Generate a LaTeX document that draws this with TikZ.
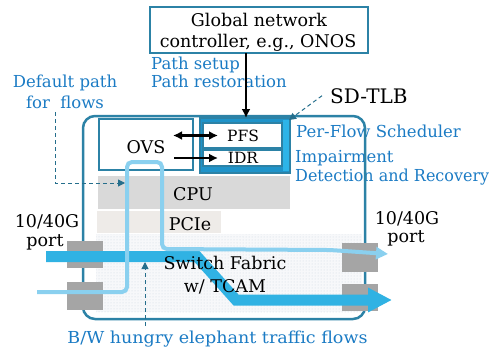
\documentclass[tikz,border=0pt]{standalone}
\usepackage{fontspec}
\usepackage{graphicx}
\setmainfont{DejaVu Serif}
\usetikzlibrary{arrows.meta,patterns}

\definecolor{frame}{HTML}{2C82A6}
\definecolor{noteblue}{HTML}{1B7BC4}
\definecolor{dashteal}{HTML}{256E8C}
\definecolor{bigflow}{HTML}{30B2E3}
\definecolor{thinflow}{HTML}{8AD0EF}
\definecolor{portgray}{HTML}{A5A5A5}
\definecolor{cpugray}{HTML}{D9D9D9}
\definecolor{pciegray}{HTML}{EEEBE8}
\definecolor{fabricbg}{HTML}{F7F8FA}
\definecolor{fabricdot}{HTML}{CFD8E2}
\definecolor{tlbfill}{HTML}{1F93C9}
\definecolor{tlbstrip}{HTML}{2DB4E8}

% set a text to a given width, keeping its height
\newcommand{\fitwidth}[2]{\resizebox{#1}{\height}{#2}}

\tikzset{
  box/.style={rectangle, inner sep=0pt, outer sep=0pt, anchor=north west},
  lbl/.style={inner sep=0pt, text=black, font=\fontsize{17.5}{20}\selectfont},
  small/.style={inner sep=0pt, text=black, font=\fontsize{15.5}{18}\selectfont},
  big/.style={inner sep=0pt, text=black, font=\fontsize{20}{24}\selectfont},
  note/.style={inner sep=0pt, text=noteblue, font=\fontsize{16.5}{19}\selectfont},
  blackarrow/.style={line width=2.2pt, draw=black},
  dasharrow/.style={draw=dashteal, line width=1pt, dash pattern=on 4pt off 3pt,
    -{Triangle[length=7pt,width=7pt]}},
}

\begin{document}
\begin{tikzpicture}[x=1pt,y=-1pt]
\useasboundingbox (0,0) rectangle (493,348);

% controller
\node[box, draw=frame, fill=white, line width=2.5pt, minimum width=218pt, minimum height=46pt] (ctrl) at (150,7) {};
\node[lbl, anchor=base] (ctrlA) at (259,27) {Global network};
\node[lbl, anchor=base] (ctrlB) at (258,47) {controller, e.g., ONOS};
\node[note, anchor=base west] (setup) at (151,69) {Path setup};
\node[note, anchor=base west] (restore) at (151,87) {Path restoration};

% left and right notes
\node[note, anchor=base] (defA) at (65,87) {Default path};
\node[note, anchor=base] (defB) at (65,108) {for\ \ flows};
\node[big, anchor=base west] (tlbname) at (330,103) {SD-TLB};
\node[note, anchor=base west] (pfsname) at (296,137) {Per-Flow Scheduler};
\node[note, anchor=base west] (idrA) at (295,162) {Impairment};
\node[note, anchor=base west] (idrB) at (295,181) {\fitwidth{194pt}{Detection and Recovery}};

% switch chassis
\node[box, draw=frame, line width=2.5pt, rounded corners=12pt, minimum width=282pt, minimum height=203pt] (sw) at (83,116) {};

% OVS
\node[box, draw=frame, fill=white, line width=2.5pt, minimum width=94pt, minimum height=51pt] (ovs) at (99,119) {};
\node[lbl, anchor=base] (ovstxt) at (146,153) {OVS};

% SD-TLB block
\node[box, draw=frame, fill=tlbfill, line width=2pt, minimum width=90pt, minimum height=55pt] (tlb) at (200,118) {};
\node[box, fill=tlbstrip, minimum width=6pt, minimum height=51pt] (strip) at (283,120) {};
\node[box, draw=frame, fill=white, line width=1.5pt, minimum width=79pt, minimum height=25pt] (pfs) at (203,123) {};
\node[box, draw=frame, fill=white, line width=1.5pt, minimum width=79pt, minimum height=16pt] (idr) at (203,150) {};
\node[small, anchor=base] (pfstxt) at (243,141) {PFS};
\node[small, anchor=base] (idrtxt) at (243,163) {IDR};

% CPU, PCIe, fabric
\node[box, fill=cpugray, minimum width=192pt, minimum height=33pt] (cpu) at (98,176) {};
\node[lbl, anchor=base] (cputxt) at (193,200) {CPU};
\node[box, fill=pciegray, minimum width=124pt, minimum height=22pt] (pcie) at (97,211) {};
\node[lbl, anchor=base] (pcietxt) at (190,230) {PCIe};
\node[box, fill=fabricbg, postaction={pattern=dots, pattern color=fabricdot}, minimum width=266pt, minimum height=78pt] (fabric) at (96,234) {};

% ports
\node[box, fill=portgray, minimum width=36pt, minimum height=27pt] (pL1) at (67,241) {};
\node[box, fill=portgray, minimum width=36pt, minimum height=28pt] (pL2) at (67,282) {};
\node[box, fill=portgray, minimum width=36pt, minimum height=29pt] (pR1) at (342,243) {};
\node[box, fill=portgray, minimum width=36pt, minimum height=27pt] (pR2) at (342,284) {};

% control arrows
\coordinate (cx) at (246,0);
\draw[blackarrow, -{Latex[length=9pt,width=9pt]}] (ctrl.south -| cx) -- (tlb.north -| cx);
\draw[blackarrow, {Latex[length=9pt,width=9pt]}-{Latex[length=9pt,width=9pt]}]
  ([xshift=-20pt]ovs.east |- pfs.center) -- ([xshift=15pt]pfs.west);
\draw[blackarrow, -{Latex[length=9pt,width=9pt]}]
  ([xshift=-19pt]ovs.east |- idr.center) -- ([xshift=15pt]idr.west);

% elephant flow
\draw[bigflow, line width=11pt, -{Triangle[length=24pt,width=23pt]}]
  (46,256.5) -- (197,256.5) -- (236,300) -- (392,300);
% default flow through OVS
\draw[thinflow, line width=4pt, rounded corners=5pt, -{Triangle[length=12pt,width=12pt]}]
  (37,292) -- (127,292) -- (127,162) -- (162,162) -- (162,249) -- (330,250) -- (388,254);

% fabric labels
\node[lbl, anchor=base] (sf1) at (225,269) {Switch Fabric};
\node[lbl, anchor=base] (sf2) at (225,292) {w/ TCAM};
\node[lbl, anchor=base] (portL1) at (47,227) {10/40G};
\node[lbl, anchor=base] (portL2) at (45,246) {port};
\node[lbl, anchor=base] (portR1) at (407,224) {10/40G};
\node[lbl, anchor=base] (portR2) at (406,242) {port};
\node[note, anchor=base] (bw) at (217.5,343) {\fitwidth{300pt}{B/W hungry elephant traffic flows}};

% dashed pointers
\coordinate (d1) at (55,112);
\coordinate (d2) at (55,183);
\coordinate (d3) at (125,183);
\draw[dasharrow] (d1) -- (d2) -- (d3);
\draw[dasharrow] ([xshift=-8pt]tlbname.west) -- ([xshift=-1pt,yshift=-2pt]tlb.north east);
\coordinate (b1) at (145,326);
\coordinate (b2) at (145,262);
\draw[dasharrow] (b1) -- (b2);
\end{tikzpicture}
\end{document}
